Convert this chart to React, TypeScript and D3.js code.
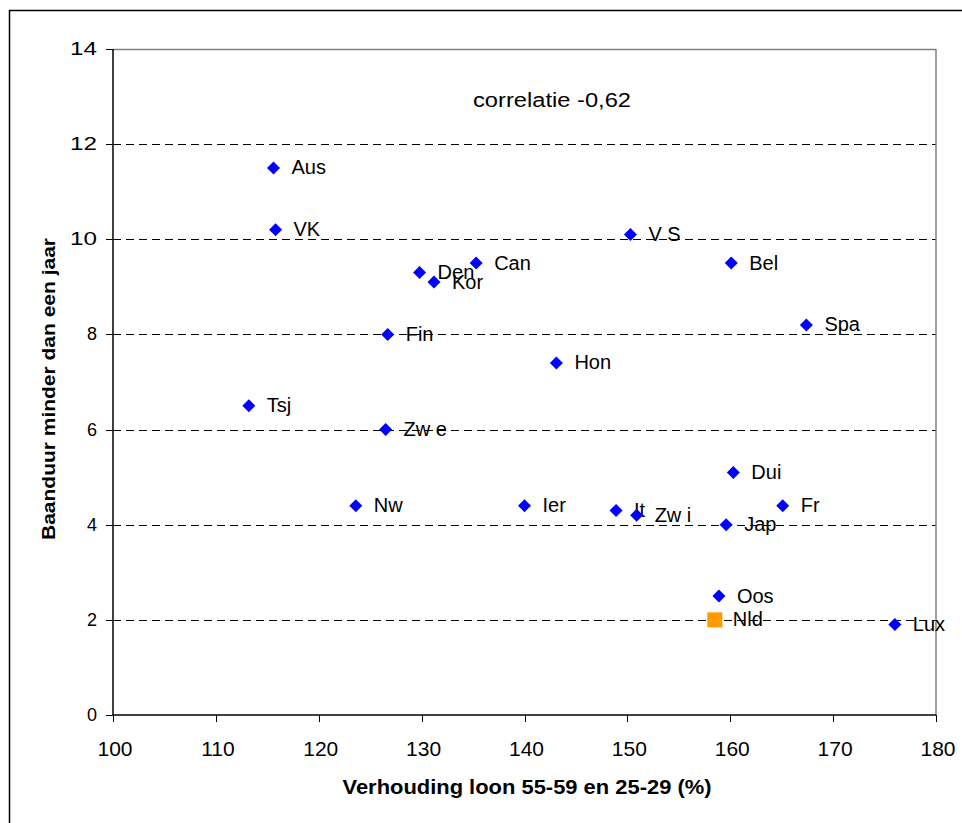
import React from "react";
import * as d3 from "d3";

const countries = ["Aus", "VK", "Den", "Kor", "Can", "Fin", "Tsj", "Zw e", "Nw", "Ier", "It", "Zw i", "Jap", "Fr", "Dui", "Oos", "Lux", "V S", "Bel", "Spa", "Hon"];
const wageRatio = [115.6, 115.8, 129.8, 131.2, 135.3, 126.7, 113.2, 126.5, 123.6, 140.0, 148.9, 150.9, 159.6, 165.1, 160.3, 158.9, 176.0, 150.3, 160.1, 167.4, 143.1];
const shortTenure = [11.5, 10.2, 9.3, 9.1, 9.5, 8.0, 6.5, 6.0, 4.4, 4.4, 4.3, 4.2, 4.0, 4.4, 5.1, 2.5, 1.9, 10.1, 9.5, 8.2, 7.4];

const nlLabel = "Nld";
const nlWage = 158.5;
const nlTenure = 2.0;

const xTicks = [100, 110, 120, 130, 140, 150, 160, 170, 180];
const yTicks = [0, 2, 4, 6, 8, 10, 12, 14];

const xTitle = "Verhouding loon 55-59 en 25-29 (%)";
const yTitle = "Baanduur minder dan een jaar";
const note = "correlatie -0,62";

export default function App() {
  const W = 962, H = 823;
  const left = 113, right = 936, top = 49, bottom = 715;
  const x = d3.scaleLinear().domain([100, 180]).range([left, right]);
  const y = d3.scaleLinear().domain([0, 14]).range([bottom, top]);
  const font = "'Liberation Sans', Arial, sans-serif";
  const dpath = (s: number) => `M0,${-s}L${s},0L0,${s}L${-s},0Z`;

  return (
    <svg width={W} height={H} style={{ position: "absolute", left: 0, top: 0, background: "#fff" }} fontFamily={font}>
      <rect x={0} y={0} width={W} height={H} fill="#fff" />
      <rect x={9.5} y={10.5} width={W + 20} height={H + 20} fill="none" stroke="#000" strokeWidth={1.5} />
      {yTicks.filter(t => t > 0 && t < 14).map(t => (
        <line key={"g" + t} x1={left} x2={right} y1={Math.round(y(t)) + 0.5} y2={Math.round(y(t)) + 0.5} stroke="#000" strokeWidth={1} strokeDasharray="8,5" />
      ))}
      <line x1={left} x2={right} y1={top + 0.5} y2={top + 0.5} stroke="#808080" strokeWidth={1.5} />
      <line x1={right} x2={right} y1={top} y2={bottom} stroke="#808080" strokeWidth={1.5} />
      <line x1={left} x2={left} y1={top} y2={bottom} stroke="#000" strokeWidth={1.5} />
      <line x1={left} x2={right} y1={bottom} y2={bottom} stroke="#000" strokeWidth={1.5} />
      {yTicks.map(t => (
        <g key={"y" + t}>
          <line x1={left - 7} x2={left} y1={Math.round(y(t)) + 0.5} y2={Math.round(y(t)) + 0.5} stroke="#000" strokeWidth={1} />
          {t >= 10 ? (
            <text x={70} y={y(t) + 6} fontSize={18} fill="#000" textLength={27} lengthAdjust="spacingAndGlyphs">{t}</text>
          ) : (
            <text x={97} y={y(t) + 6} textAnchor="end" fontSize={18} fill="#000">{t}</text>
          )}
        </g>
      ))}
      {xTicks.map(t => (
        <g key={"x" + t}>
          <line x1={Math.round(x(t)) + 0.5} x2={Math.round(x(t)) + 0.5} y1={bottom} y2={bottom + 7} stroke="#000" strokeWidth={1} />
          <text x={x(t) + 2} y={bottom + 40.5} textAnchor="middle" fontSize={21} fill="#000">{t}</text>
        </g>
      ))}
      <text x={527} y={794} textAnchor="middle" fontSize={20} fontWeight="bold" fill="#000" textLength={369} lengthAdjust="spacingAndGlyphs">{xTitle}</text>
      <text transform={`translate(55,389) rotate(-90)`} textAnchor="middle" fontSize={19} fontWeight="bold" fill="#000" textLength={302} lengthAdjust="spacingAndGlyphs">{yTitle}</text>
      <text x={473} y={107} fontSize={19.5} fill="#000" textLength={158} lengthAdjust="spacingAndGlyphs">{note}</text>
      {countries.map((c, i) => (
        <g key={c}>
          <path d={dpath(6.5)} transform={`translate(${x(wageRatio[i])},${y(shortTenure[i])})`} fill="#0000FF" />
          <text x={x(wageRatio[i]) + 18} y={y(shortTenure[i]) + 6.5} fontSize={20} fill="#000">{c}</text>
        </g>
      ))}
      <rect x={x(nlWage) - 7.5} y={y(nlTenure) - 7.5} width={15} height={15} fill="#FF9900" />
      <text x={x(nlWage) + 18} y={y(nlTenure) + 6.5} fontSize={20} fill="#000">{nlLabel}</text>
    </svg>
  );
}
